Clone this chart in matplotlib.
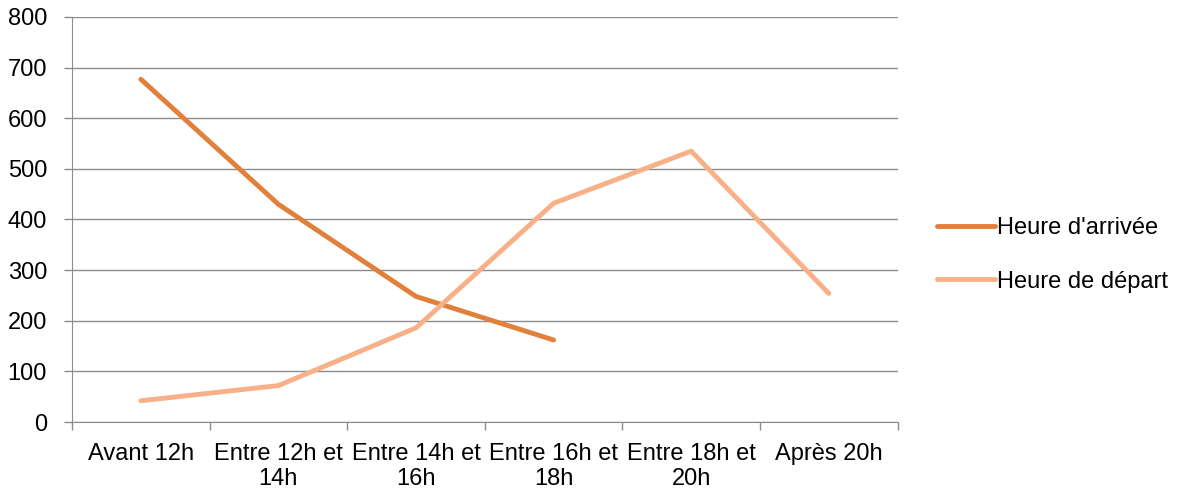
import matplotlib.pyplot as plt
import numpy as np

plt.rcParams['font.family'] = ['Liberation Sans', 'DejaVu Sans']

categories = ['Avant 12h', 'Entre 12h et\n14h', 'Entre 14h et\n16h',
              'Entre 16h et\n18h', 'Entre 18h et\n20h', 'Après 20h']
arrivee = [677, 430, 248, 162]
depart = [42, 72, 186, 432, 535, 254]

fig = plt.figure(figsize=(11.81, 4.94), dpi=100)
ax = fig.add_axes([0.061, 0.1457, 0.699, 0.82])

x = np.arange(len(categories))
ax.plot(x[:len(arrivee)], arrivee, color='#E0803A', lw=3.5,
        solid_capstyle='round', label="Heure d'arrivée", zorder=3)
ax.plot(x, depart, color='#F8B088', lw=3.5,
        solid_capstyle='round', label='Heure de départ', zorder=3)

ax.set_xlim(-0.5, len(categories) - 0.5)
ax.set_ylim(0, 800)
ax.set_yticks(np.arange(0, 801, 100))
ax.yaxis.grid(True, color='#8c8c8c', lw=1)
ax.set_axisbelow(True)

ax.set_xticks(x)
ax.set_xticklabels(categories, fontsize=17, linespacing=1.2)
ax.set_xticks(np.arange(-0.5, len(categories)), minor=True)
ax.tick_params(axis='x', which='major', length=0, pad=15)
ax.tick_params(axis='x', which='minor', length=6, color='#8c8c8c', width=1)
ax.tick_params(axis='y', length=6, color='#8c8c8c', width=1, labelsize=17, pad=12)

for s in ['top', 'right']:
    ax.spines[s].set_visible(False)
ax.spines['left'].set_color('#8c8c8c')
ax.spines['bottom'].set_color('#8c8c8c')

ax.legend(loc='center left', bbox_to_anchor=(1.022, 0.413), frameon=False,
          fontsize=17, handlelength=2.45, handletextpad=0.1, labelspacing=1.35)

fig.savefig('out.png')
